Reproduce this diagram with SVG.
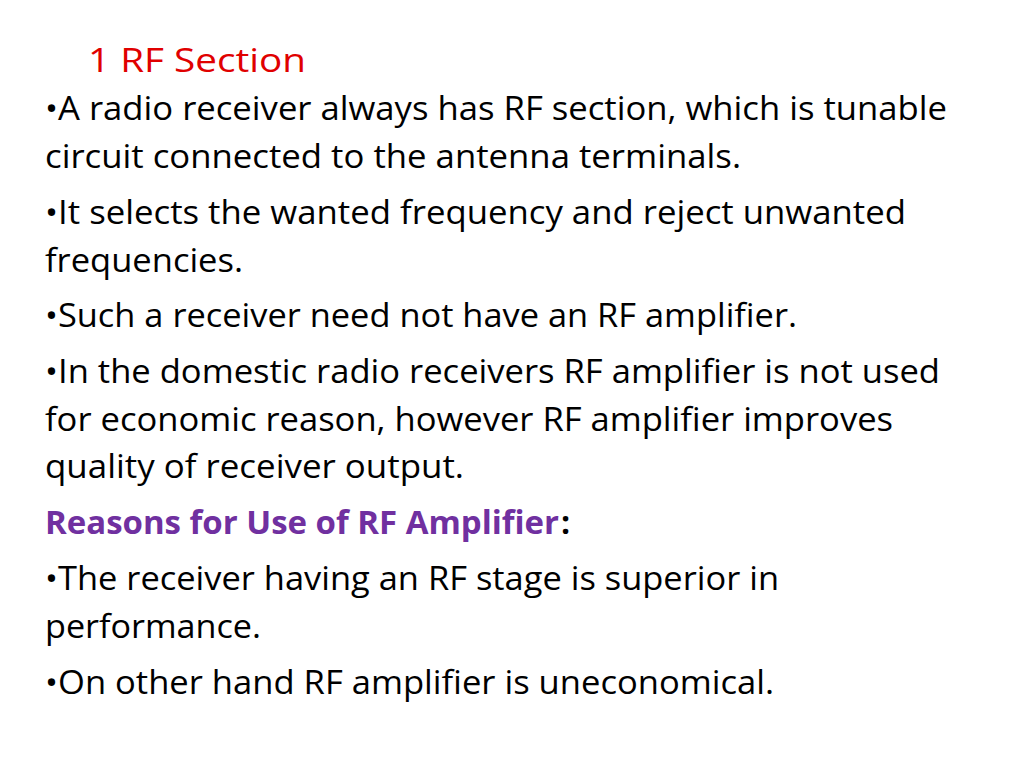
<svg xmlns="http://www.w3.org/2000/svg" width="1024" height="768" viewBox="0 0 1024 768">
<style>
text{font-family:"Open Sans","Liberation Sans",sans-serif;font-size:32px;fill:#000}
.t{fill:#e00000}
.p{fill:#7030a0;font-weight:bold}
.b{font-weight:bold}
</style>
<rect width="1024" height="768" fill="#fff"/>
<text class="t" x="88" y="72" textLength="218" lengthAdjust="spacingAndGlyphs">1  RF Section</text>
<text x="45" y="120" textLength="902" lengthAdjust="spacingAndGlyphs">•A radio receiver always has RF section, which is tunable</text>
<text x="45" y="168" textLength="696" lengthAdjust="spacingAndGlyphs">circuit connected to the antenna terminals.</text>
<text x="45" y="224" textLength="861" lengthAdjust="spacingAndGlyphs">•It selects the wanted frequency and reject unwanted</text>
<text x="45" y="272" textLength="198" lengthAdjust="spacingAndGlyphs">frequencies.</text>
<text x="45" y="327" textLength="752" lengthAdjust="spacingAndGlyphs">•Such a receiver need not have an RF amplifier.</text>
<text x="45" y="383" textLength="895" lengthAdjust="spacingAndGlyphs">•In the domestic radio receivers RF amplifier is not used</text>
<text x="45" y="431" textLength="848" lengthAdjust="spacingAndGlyphs">for economic reason, however RF amplifier improves</text>
<text x="45" y="478" textLength="419" lengthAdjust="spacingAndGlyphs">quality of receiver output.</text>
<text class="p" x="45" y="534" textLength="514" lengthAdjust="spacingAndGlyphs">Reasons for Use of RF Amplifier</text>
<text class="b" x="561" y="534">:</text>
<text x="45" y="590" textLength="734" lengthAdjust="spacingAndGlyphs">•The receiver having an RF stage is superior in</text>
<text x="45" y="638" textLength="216" lengthAdjust="spacingAndGlyphs">performance.</text>
<text x="45" y="694" textLength="729" lengthAdjust="spacingAndGlyphs">•On other hand RF amplifier is uneconomical.</text>
</svg>
